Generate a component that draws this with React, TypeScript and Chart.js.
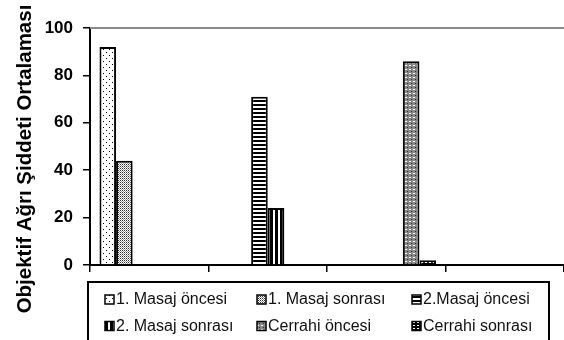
import React, { useEffect, useRef } from "react";
import { Chart, registerables } from "chart.js";

Chart.register(...registerables);

// ---- data ----
const categories = ["1", "2", "3", "4"];
const seriesNames = [
  "1. Masaj öncesi",
  "1. Masaj sonrası",
  "2.Masaj öncesi",
  "2. Masaj sonrası",
  "Cerrahi öncesi",
  "Cerrahi sonrası",
];
const masaj1Oncesi = [92, null, null, null];
const masaj1Sonrasi = [44, null, null, null];
const masaj2Oncesi = [null, 71, null, null];
const masaj2Sonrasi = [null, 24, null, null];
const cerrahiOncesi = [null, null, 86, null];
const cerrahiSonrasi = [null, null, 2, null];
const yTicks = [0, 20, 40, 60, 80, 100];
const yTitle = "Objektif Ağrı Şiddeti Ortalaması";

const FONT = '"Liberation Sans", Arial, sans-serif';

function makePattern(w: number, h: number, draw: (c: CanvasRenderingContext2D) => void) {
  const cv = document.createElement("canvas");
  cv.width = w;
  cv.height = h;
  const c = cv.getContext("2d")!;
  draw(c);
  const ctx = document.createElement("canvas").getContext("2d")!;
  return ctx.createPattern(cv, "repeat")!;
}

function buildPatterns() {
  const p1 = makePattern(6, 6, (c) => {
    c.fillStyle = "#fff"; c.fillRect(0, 0, 6, 6);
    c.fillStyle = "#000"; c.fillRect(1, 1, 1, 1); c.fillRect(4, 4, 1, 1);
  });
  const p2 = makePattern(2, 2, (c) => {
    c.fillStyle = "#fff"; c.fillRect(0, 0, 2, 2);
    c.fillStyle = "#333"; c.fillRect(0, 0, 1, 1);
    c.fillStyle = "#999"; c.fillRect(1, 1, 1, 1);
  });
  const p3 = makePattern(1, 4, (c) => {
    c.fillStyle = "#fff"; c.fillRect(0, 0, 1, 4);
    c.fillStyle = "#000"; c.fillRect(0, 0, 1, 2);
  });
  const p4 = makePattern(5, 1, (c) => {
    c.fillStyle = "#000"; c.fillRect(0, 0, 5, 1);
    c.fillStyle = "#fff"; c.fillRect(3, 0, 2, 1);
  });
  const p5 = makePattern(4, 4, (c) => {
    c.fillStyle = "#888"; c.fillRect(0, 0, 4, 4);
    c.fillStyle = "#fff"; c.fillRect(1, 1, 2, 1);
    c.fillStyle = "#333"; c.fillRect(3, 3, 1, 1);
  });
  const p6 = makePattern(4, 3, (c) => {
    c.fillStyle = "#000"; c.fillRect(0, 0, 4, 3);
    c.fillStyle = "#fff"; c.fillRect(1, 1, 2, 1);
  });
  return [p1, p2, p3, p4, p5, p6];
}

const decorPlugin = {
  id: "decor",
  afterDraw(chart: any) {
    const ctx: CanvasRenderingContext2D = chart.ctx;
    const area = chart.chartArea;
    ctx.save();
    // top gray line
    ctx.strokeStyle = "#8a8a8a";
    ctx.lineWidth = 2;
    ctx.beginPath();
    ctx.moveTo(area.left, area.top);
    ctx.lineTo(chart.width, area.top);
    ctx.stroke();

    // y title
    ctx.save();
    ctx.translate(25, 159);
    ctx.rotate(-Math.PI / 2);
    ctx.fillStyle = "#000";
    ctx.font = `bold 20.5px ${FONT}`;
    ctx.textAlign = "center";
    ctx.textBaseline = "middle";
    ctx.fillText(yTitle, 0, 0);
    ctx.restore();

    // legend box
    ctx.strokeStyle = "#000";
    ctx.lineWidth = 2;
    ctx.strokeRect(88, 282, 549 - 88, 70);
    const cols = [105, 257, 412];
    const rows = [299.5, 326];
    ctx.font = `16px ${FONT}`;
    ctx.textBaseline = "middle";
    ctx.textAlign = "left";
    chart.data.datasets.forEach((ds: any, i: number) => {
      const x = cols[i % 3];
      const y = rows[Math.floor(i / 3)];
      ctx.fillStyle = ds.backgroundColor;
      ctx.fillRect(x, y - 4.5, 9, 9);
      ctx.strokeStyle = "#000";
      ctx.lineWidth = 1.5;
      ctx.strokeRect(x, y - 4.5, 9, 9);
      ctx.fillStyle = "#111";
      ctx.fillText(ds.label, x + 11, y + 0.5);
    });
    ctx.restore();
  },
};

export default function App() {
  const ref = useRef<HTMLCanvasElement>(null);
  useEffect(() => {
    const pats = buildPatterns();
    const values = [masaj1Oncesi, masaj1Sonrasi, masaj2Oncesi, masaj2Sonrasi, cerrahiOncesi, cerrahiSonrasi];
    const chart = new Chart(ref.current!, {
      type: "bar",
      data: {
        labels: categories,
        datasets: values.map((d, i) => ({
          label: seriesNames[i],
          data: d,
          backgroundColor: pats[i],
          borderColor: "#000",
          borderWidth: 2,
          categoryPercentage: 0.84,
          barPercentage: 1,
        })),
      },
      options: {
        animation: false,
        responsive: false,
        devicePixelRatio: 1,
        layout: { padding: { left: 0, top: 28, right: 0, bottom: 0 } },
        plugins: { legend: { display: false }, tooltip: { enabled: false } },
        scales: {
          x: {
            grid: {
              display: true,
              drawOnChartArea: false,
              drawTicks: true,
              tickLength: 7,
              color: "#000",
              lineWidth: 1.5,
              offset: true,
            },
            border: { display: true, color: "#000", width: 2 },
            ticks: { callback: () => "" },
            afterFit: (s: any) => { s.height = 75; },
          },
          y: {
            min: 0,
            max: 100,
            afterBuildTicks: (s: any) => { s.ticks = yTicks.map((v) => ({ value: v })); },
            grid: {
              display: true,
              drawOnChartArea: false,
              drawTicks: true,
              tickLength: 7,
              color: "#000",
              lineWidth: 1.5,
            },
            border: { display: true, color: "#000", width: 2 },
            ticks: {
              padding: 10,
              color: "#000",
              font: { family: FONT, size: 17, weight: "bold" },
            },
            afterFit: (s: any) => { s.width = 90; },
          },
        },
      },
      plugins: [decorPlugin],
    });
    return () => chart.destroy();
  }, []);
  return (
    <div style={{ position: "fixed", left: 0, top: 0, width: 564, height: 340, background: "#fff" }}>
      <canvas ref={ref} width={564} height={340} style={{ display: "block", width: 564, height: 340 }} />
    </div>
  );
}
